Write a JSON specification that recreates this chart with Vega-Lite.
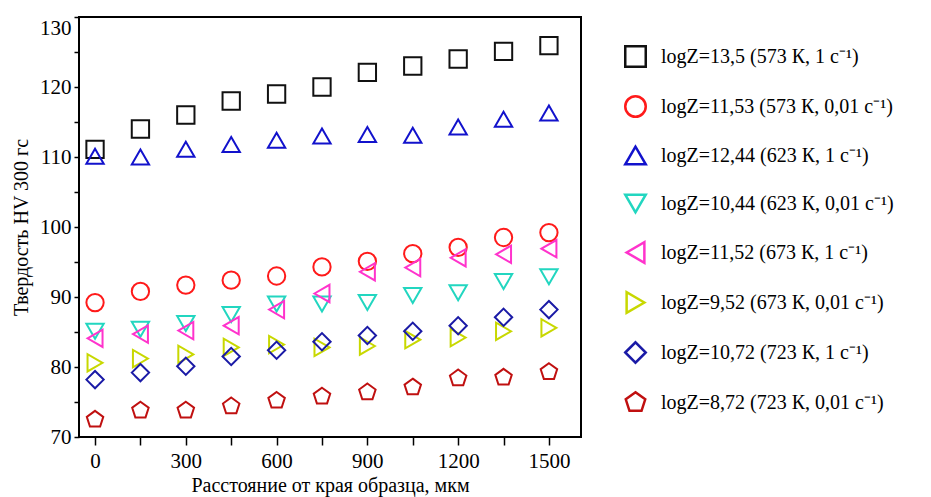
{
  "$schema": "https://vega.github.io/schema/vega-lite/v6.json",
  "width": 502,
  "height": 420,
  "autosize": "none",
  "padding": {"left": 79, "top": 17, "right": 350, "bottom": 60},
  "background": "white",
  "config": {
    "font": "Liberation Serif",
    "view": {"stroke": "black", "strokeWidth": 2}
  },
  "data": {
    "values": [
      {"d": 0, "logZ=13,5 (573 К, 1 с⁻¹)": 111.1, "logZ=11,53 (573 К, 0,01 с⁻¹)": 89.2, "logZ=12,44 (623 К, 1 с⁻¹)": 110.1, "logZ=10,44 (623 К, 0,01 с⁻¹)": 85.1, "logZ=11,52 (673 К, 1 с⁻¹)": 84.1, "logZ=9,52 (673 К, 0,01 с⁻¹)": 80.6, "logZ=10,72 (723 К, 1 с⁻¹)": 78.2, "logZ=8,72 (723 К, 0,01 с⁻¹)": 72.5},
      {"d": 150, "logZ=13,5 (573 К, 1 с⁻¹)": 114.0, "logZ=11,53 (573 К, 0,01 с⁻¹)": 90.8, "logZ=12,44 (623 К, 1 с⁻¹)": 110.0, "logZ=10,44 (623 К, 0,01 с⁻¹)": 85.4, "logZ=11,52 (673 К, 1 с⁻¹)": 84.7, "logZ=9,52 (673 К, 0,01 с⁻¹)": 81.2, "logZ=10,72 (723 К, 1 с⁻¹)": 79.2, "logZ=8,72 (723 К, 0,01 с⁻¹)": 73.8},
      {"d": 300, "logZ=13,5 (573 К, 1 с⁻¹)": 116.0, "logZ=11,53 (573 К, 0,01 с⁻¹)": 91.7, "logZ=12,44 (623 К, 1 с⁻¹)": 111.1, "logZ=10,44 (623 К, 0,01 с⁻¹)": 86.2, "logZ=11,52 (673 К, 1 с⁻¹)": 85.2, "logZ=9,52 (673 К, 0,01 с⁻¹)": 81.8, "logZ=10,72 (723 К, 1 с⁻¹)": 80.1, "logZ=8,72 (723 К, 0,01 с⁻¹)": 73.8},
      {"d": 450, "logZ=13,5 (573 К, 1 с⁻¹)": 118.0, "logZ=11,53 (573 К, 0,01 с⁻¹)": 92.4, "logZ=12,44 (623 К, 1 с⁻¹)": 111.8, "logZ=10,44 (623 К, 0,01 с⁻¹)": 87.5, "logZ=11,52 (673 К, 1 с⁻¹)": 85.9, "logZ=9,52 (673 К, 0,01 с⁻¹)": 82.8, "logZ=10,72 (723 К, 1 с⁻¹)": 81.5, "logZ=8,72 (723 К, 0,01 с⁻¹)": 74.4},
      {"d": 600, "logZ=13,5 (573 К, 1 с⁻¹)": 119.0, "logZ=11,53 (573 К, 0,01 с⁻¹)": 93.0, "logZ=12,44 (623 К, 1 с⁻¹)": 112.4, "logZ=10,44 (623 К, 0,01 с⁻¹)": 89.0, "logZ=11,52 (673 К, 1 с⁻¹)": 88.2, "logZ=9,52 (673 К, 0,01 с⁻¹)": 83.2, "logZ=10,72 (723 К, 1 с⁻¹)": 82.4, "logZ=8,72 (723 К, 0,01 с⁻¹)": 75.2},
      {"d": 750, "logZ=13,5 (573 К, 1 с⁻¹)": 120.0, "logZ=11,53 (573 К, 0,01 с⁻¹)": 94.3, "logZ=12,44 (623 К, 1 с⁻¹)": 113.0, "logZ=10,44 (623 К, 0,01 с⁻¹)": 89.0, "logZ=11,52 (673 К, 1 с⁻¹)": 90.5, "logZ=9,52 (673 К, 0,01 с⁻¹)": 82.8, "logZ=10,72 (723 К, 1 с⁻¹)": 83.6, "logZ=8,72 (723 К, 0,01 с⁻¹)": 75.8},
      {"d": 900, "logZ=13,5 (573 К, 1 с⁻¹)": 122.1, "logZ=11,53 (573 К, 0,01 с⁻¹)": 95.1, "logZ=12,44 (623 К, 1 с⁻¹)": 113.2, "logZ=10,44 (623 К, 0,01 с⁻¹)": 89.2, "logZ=11,52 (673 К, 1 с⁻¹)": 93.6, "logZ=9,52 (673 К, 0,01 с⁻¹)": 83.0, "logZ=10,72 (723 К, 1 с⁻¹)": 84.5, "logZ=8,72 (723 К, 0,01 с⁻¹)": 76.4},
      {"d": 1050, "logZ=13,5 (573 К, 1 с⁻¹)": 123.0, "logZ=11,53 (573 К, 0,01 с⁻¹)": 96.2, "logZ=12,44 (623 К, 1 с⁻¹)": 113.1, "logZ=10,44 (623 К, 0,01 с⁻¹)": 90.2, "logZ=11,52 (673 К, 1 с⁻¹)": 94.2, "logZ=9,52 (673 К, 0,01 с⁻¹)": 83.9, "logZ=10,72 (723 К, 1 с⁻¹)": 85.1, "logZ=8,72 (723 К, 0,01 с⁻¹)": 77.1},
      {"d": 1200, "logZ=13,5 (573 К, 1 с⁻¹)": 124.0, "logZ=11,53 (573 К, 0,01 с⁻¹)": 97.1, "logZ=12,44 (623 К, 1 с⁻¹)": 114.3, "logZ=10,44 (623 К, 0,01 с⁻¹)": 90.6, "logZ=11,52 (673 К, 1 с⁻¹)": 95.6, "logZ=9,52 (673 К, 0,01 с⁻¹)": 84.2, "logZ=10,72 (723 К, 1 с⁻¹)": 85.9, "logZ=8,72 (723 К, 0,01 с⁻¹)": 78.4},
      {"d": 1350, "logZ=13,5 (573 К, 1 с⁻¹)": 125.1, "logZ=11,53 (573 К, 0,01 с⁻¹)": 98.5, "logZ=12,44 (623 К, 1 с⁻¹)": 115.4, "logZ=10,44 (623 К, 0,01 с⁻¹)": 92.2, "logZ=11,52 (673 К, 1 с⁻¹)": 96.1, "logZ=9,52 (673 К, 0,01 с⁻¹)": 85.1, "logZ=10,72 (723 К, 1 с⁻¹)": 87.1, "logZ=8,72 (723 К, 0,01 с⁻¹)": 78.5},
      {"d": 1500, "logZ=13,5 (573 К, 1 с⁻¹)": 125.9, "logZ=11,53 (573 К, 0,01 с⁻¹)": 99.2, "logZ=12,44 (623 К, 1 с⁻¹)": 116.3, "logZ=10,44 (623 К, 0,01 с⁻¹)": 92.9, "logZ=11,52 (673 К, 1 с⁻¹)": 96.9, "logZ=9,52 (673 К, 0,01 с⁻¹)": 85.6, "logZ=10,72 (723 К, 1 с⁻¹)": 88.2, "logZ=8,72 (723 К, 0,01 с⁻¹)": 79.3}
    ]
  },
  "transform": [
    {"fold": ["logZ=13,5 (573 К, 1 с⁻¹)", "logZ=11,53 (573 К, 0,01 с⁻¹)", "logZ=12,44 (623 К, 1 с⁻¹)", "logZ=10,44 (623 К, 0,01 с⁻¹)", "logZ=11,52 (673 К, 1 с⁻¹)", "logZ=9,52 (673 К, 0,01 с⁻¹)", "logZ=10,72 (723 К, 1 с⁻¹)", "logZ=8,72 (723 К, 0,01 с⁻¹)"], "as": ["series", "hv"]}
  ],
  "mark": {"type": "point", "filled": false, "strokeWidth": 2, "size": 300, "opacity": 1},
  "encoding": {
    "x": {
      "field": "d", "type": "quantitative",
      "scale": {"domain": [-53, 1606], "nice": false, "zero": false},
      "axis": {
        "title": "Расстояние от края образца, мкм",
        "titleFont": "Liberation Serif", "titleFontSize": 20, "titleFontWeight": "normal", "titleColor": "black", "titlePadding": 4,
        "values": [0, 150, 300, 450, 600, 750, 900, 1050, 1200, 1350, 1500],
        "labelExpr": "datum.value % 300 == 0 ? datum.label : ''",
        "format": "d",
        "labelFont": "Liberation Serif", "labelFontSize": 21, "labelColor": "black", "labelPadding": 5,
        "tickColor": "black", "tickSize": 8, "tickWidth": 1.5,
        "domain": false, "grid": false
      }
    },
    "y": {
      "field": "hv", "type": "quantitative",
      "scale": {"domain": [70, 130], "nice": false, "zero": false},
      "axis": {
        "title": "Твердость HV 300 гс",
        "titleFont": "Liberation Serif", "titleFontSize": 20, "titleFontWeight": "normal", "titleColor": "black", "titlePadding": 8,
        "values": [70, 75, 80, 85, 90, 95, 100, 105, 110, 115, 120, 125, 130],
        "labelExpr": "datum.value % 10 == 0 ? datum.label : ''",
        "labelBaseline": {"condition": {"test": "datum.value == 130", "value": "top"}, "value": "middle"},
        "labelFont": "Liberation Serif", "labelFontSize": 21, "labelColor": "black", "labelPadding": 3,
        "tickColor": "black", "tickSize": 5, "tickWidth": 1.5,
        "domain": false, "grid": false
      }
    },
    "color": {
      "field": "series", "type": "nominal",
      "scale": {
        "domain": ["logZ=13,5 (573 К, 1 с⁻¹)", "logZ=11,53 (573 К, 0,01 с⁻¹)", "logZ=12,44 (623 К, 1 с⁻¹)", "logZ=10,44 (623 К, 0,01 с⁻¹)", "logZ=11,52 (673 К, 1 с⁻¹)", "logZ=9,52 (673 К, 0,01 с⁻¹)", "logZ=10,72 (723 К, 1 с⁻¹)", "logZ=8,72 (723 К, 0,01 с⁻¹)"],
        "range": ["#111111", "#ff1a1a", "#1212cc", "#22d6c0", "#ff33cc", "#c8d800", "#1a1aa6", "#c01010"]
      },
      "legend": {
        "title": null, "orient": "none", "legendX": 545, "legendY": 28,
        "labelFont": "Liberation Serif", "labelFontSize": 20, "labelColor": "black", "labelLimit": 400,
        "symbolSize": 420, "symbolStrokeWidth": 2.5, "labelOffset": 14, "rowPadding": 19, "padding": 0
      }
    },
    "shape": {
      "field": "series", "type": "nominal",
      "scale": {
        "domain": ["logZ=13,5 (573 К, 1 с⁻¹)", "logZ=11,53 (573 К, 0,01 с⁻¹)", "logZ=12,44 (623 К, 1 с⁻¹)", "logZ=10,44 (623 К, 0,01 с⁻¹)", "logZ=11,52 (673 К, 1 с⁻¹)", "logZ=9,52 (673 К, 0,01 с⁻¹)", "logZ=10,72 (723 К, 1 с⁻¹)", "logZ=8,72 (723 К, 0,01 с⁻¹)"],
        "range": ["square", "circle", "triangle-up", "triangle-down", "triangle-left", "triangle-right", "diamond", "M0,-1L0.951,-0.309L0.588,0.809L-0.588,0.809L-0.951,-0.309Z"]
      },
      "legend": {
        "title": null, "orient": "none", "legendX": 545, "legendY": 28,
        "labelFont": "Liberation Serif", "labelFontSize": 20, "labelColor": "black", "labelLimit": 400,
        "symbolSize": 420, "symbolStrokeWidth": 2.5, "labelOffset": 14, "rowPadding": 19, "padding": 0
      }
    }
  }
}
